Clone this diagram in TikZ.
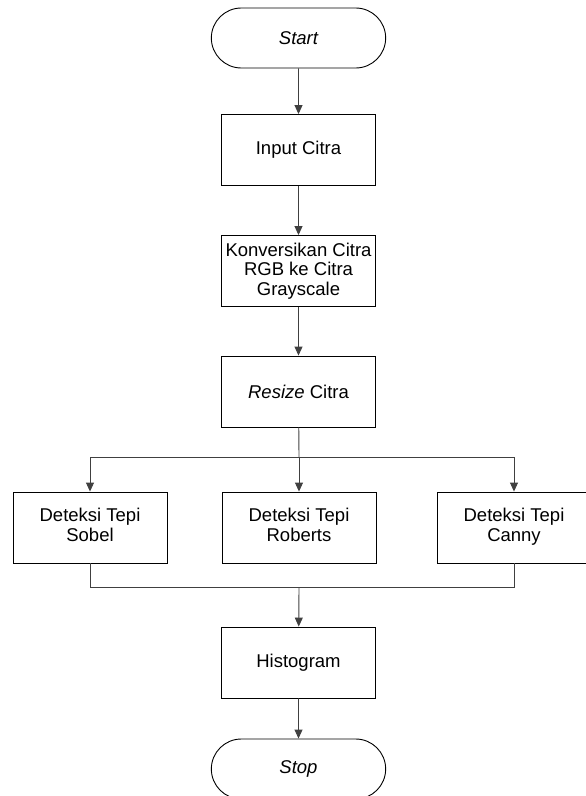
\documentclass[tikz,border=0pt]{standalone}
\usepackage{fontspec}
\setmainfont{Liberation Sans}
\usetikzlibrary{shapes.misc,arrows.meta}
\tikzset{
  proses/.style={draw, line width=0.9pt, minimum width=154, minimum height=71, align=center, inner sep=0pt, font=\fontsize{18.5}{19.5}\selectfont},
  terminal/.style={draw, line width=0.9pt, rounded rectangle, minimum width=181, minimum height=60, font=\fontsize{18.5}{19.5}\selectfont\itshape},
  alur/.style={draw=black!75, line width=0.9pt},
  panah/.style={alur, -{Triangle[length=9pt,width=8pt]}},
}
\begin{document}
\begin{tikzpicture}[x=1pt,y=-1pt]
    \useasboundingbox (0,0) rectangle (586,796);
    % alur utama
    \node[terminal] (start) at (298.5,38) {Start};
    \node[proses] (input) at (298.5,150) {Input Citra};
    \node[proses] (konversi) at (298.5,271) {Konversikan Citra\\RGB ke Citra\\Grayscale};
    \node[proses] (resize) at (298.5,391.5) {\textit{Resize} Citra};
    % tiga metode deteksi tepi
    \node[proses] (sobel) at (90,527.5) {Deteksi Tepi\\Sobel\strut};
    \node[proses] (roberts) at (299,527.5) {Deteksi Tepi\\Roberts\strut};
    \node[proses] (canny) at (514,527.5) {Deteksi Tepi\\Canny\strut};
    \node[proses] (histogram) at (298.5,662.5) {Histogram};
    \node[terminal] (stop) at (298.5,769) {Stop};
    \coordinate (cabang) at (299,457);
    \coordinate (gabung) at (299,587);

    \draw[panah] (start) -- (input);
    \draw[panah] (input) -- (konversi);
    \draw[panah] (konversi) -- (resize);
    \draw[alur] (resize) -- (cabang);
    \draw[panah] (cabang) -| (sobel);
    \draw[panah] (cabang) -- (roberts);
    \draw[panah] (cabang) -| (canny);
    \draw[alur] (sobel) |- (gabung);
    \draw[alur] (canny) |- (gabung);
    \draw[panah] (gabung) -- (histogram);
    \draw[panah] (histogram) -- (stop);
\end{tikzpicture}
\end{document}
